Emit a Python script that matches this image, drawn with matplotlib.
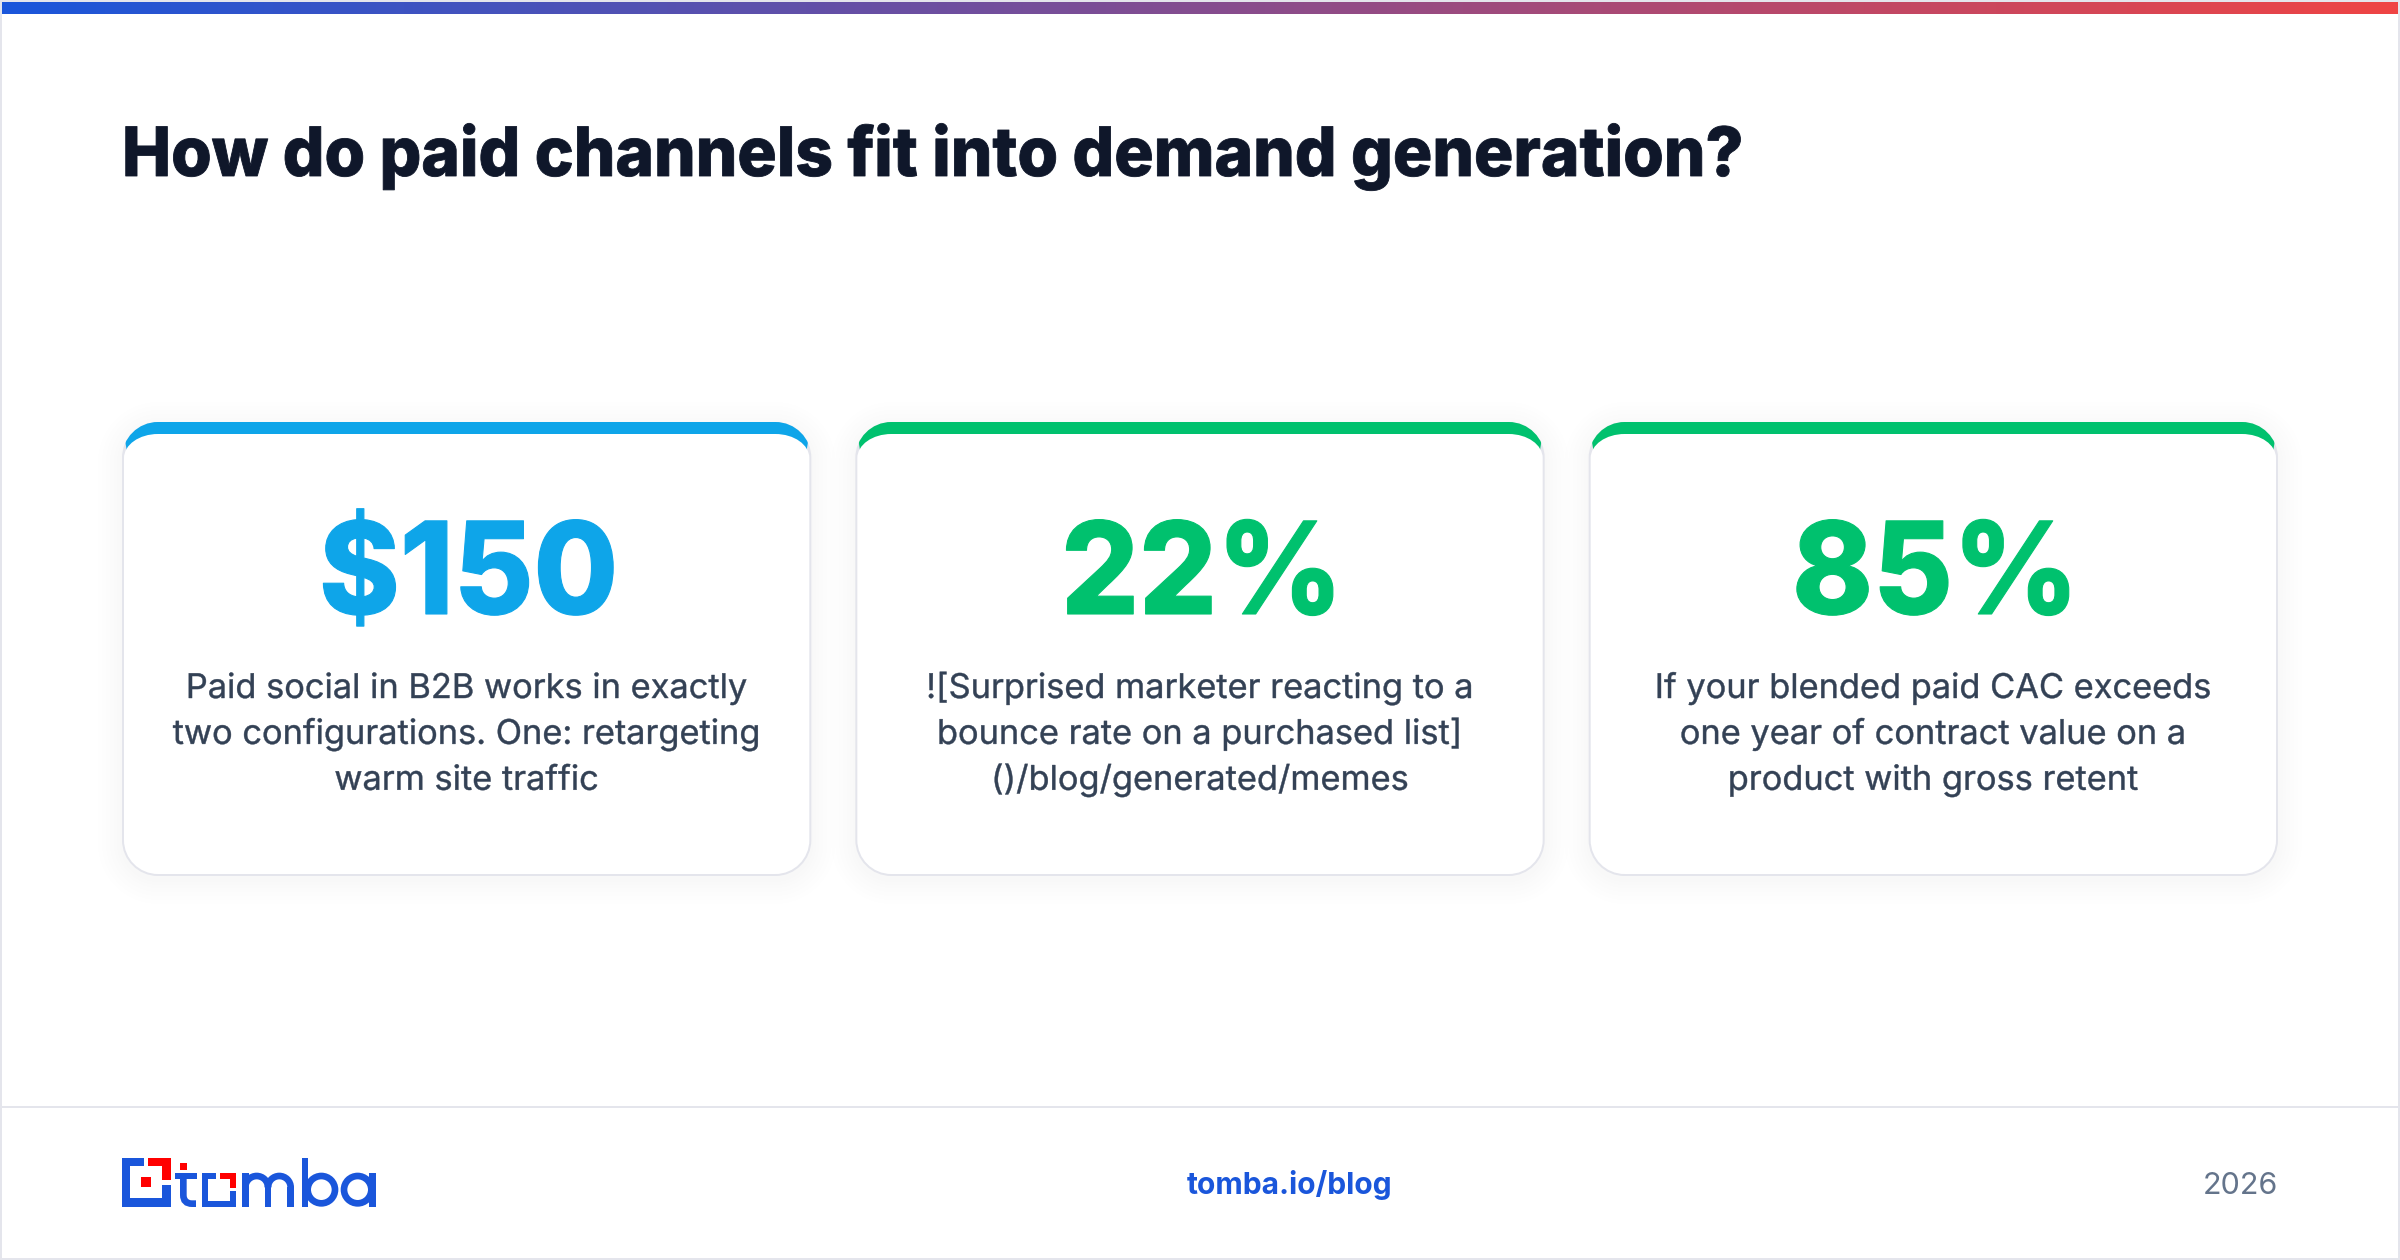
import numpy as np
import matplotlib
matplotlib.use("Agg")
import matplotlib.pyplot as plt
from matplotlib.patches import Rectangle, PathPatch, Circle, Arc
from matplotlib.patheffects import AbstractPathEffect
from matplotlib.path import Path
from matplotlib.colors import LinearSegmentedColormap
from matplotlib.transforms import Affine2D

plt.rcParams['font.family'] = ['Inter', 'DejaVu Sans']

W, H = 2400, 1260
TITLE = "How do paid channels fit into demand generation?"
FOOT_LINK = "tomba.io/blog"
FOOT_YEAR = "2026"

stats = ["$150", "22%", "85%"]
stat_colors = ["#0ea5e9", "#00c16e", "#00c16e"]
descriptions = [
    ["Paid social in B2B works in exactly", "two configurations. One: retargeting", "warm site traffic"],
    ["![Surprised marketer reacting to a", "bounce rate on a purchased list]", "()/blog/generated/memes"],
    ["If your blended paid CAC exceeds", "one year of contract value on a", "product with gross retent"],
]

BLUE = "#1a56db"
RED = "#ff0000"
GREY = "#e4e5ec"


class Tighten(AbstractPathEffect):
    # stands in for css letter-spacing: squeeze text around its anchor, maybe thicken it
    def __init__(self, anchor_x, sx, stroke=0.0):
        super().__init__()
        self.anchor_x = anchor_x
        self.sx = sx
        self.stroke = stroke

    def draw_path(self, renderer, gc, tpath, affine, rgbFace=None):
        squeeze = Affine2D().translate(-self.anchor_x, 0).scale(self.sx, 1).translate(self.anchor_x, 0)
        gc0 = renderer.new_gc()
        gc0.copy_properties(gc)
        if self.stroke:
            gc0.set_linewidth(self.stroke)
            gc0.set_foreground(rgbFace)
        renderer.draw_path(gc0, tpath, affine + squeeze, rgbFace)
        gc0.restore()


def rounded(x0, y0, x1, y1, rx, ry_top=None, ry_bot=None):
    # rounded rectangle with elliptical corners, y axis points down
    ry_top = rx if ry_top is None else ry_top
    ry_bot = rx if ry_bot is None else ry_bot
    k = 0.5523
    verts = [
        (x0 + rx, y0), (x1 - rx, y0),
        (x1 - rx + k * rx, y0), (x1, y0 + ry_top - k * ry_top), (x1, y0 + ry_top),
        (x1, y1 - ry_bot),
        (x1, y1 - ry_bot + k * ry_bot), (x1 - rx + k * rx, y1), (x1 - rx, y1),
        (x0 + rx, y1),
        (x0 + rx - k * rx, y1), (x0, y1 - ry_bot + k * ry_bot), (x0, y1 - ry_bot),
        (x0, y0 + ry_top),
        (x0, y0 + ry_top - k * ry_top), (x0 + rx - k * rx, y0), (x0 + rx, y0),
        (x0 + rx, y0),
    ]
    codes = [Path.MOVETO, Path.LINETO,
             Path.CURVE4, Path.CURVE4, Path.CURVE4,
             Path.LINETO,
             Path.CURVE4, Path.CURVE4, Path.CURVE4,
             Path.LINETO,
             Path.CURVE4, Path.CURVE4, Path.CURVE4,
             Path.LINETO,
             Path.CURVE4, Path.CURVE4, Path.CURVE4,
             Path.CLOSEPOLY]
    return Path(verts, codes)


def draw_card(ax, x0, x1, stat, color, lines):
    y0, y1 = 422, 876
    # soft shadow
    for grow in (24, 20, 16, 12, 8, 5, 2):
        ax.add_patch(PathPatch(rounded(x0 - grow, y0 - grow + 4, x1 + grow, y1 + grow + 4, 36 + grow),
                               fc="#0f172a", ec="none", alpha=0.0022))
    ax.add_patch(PathPatch(rounded(x0, y0, x1, y1, 36), fc=GREY, ec="none"))

    # thick top border, mitred into the thin side borders
    top = PathPatch(rounded(x0, y0, x1, y1, 36), fc=color, ec="none")
    ax.add_patch(top)
    clip = Path([(x0, y0), (x1, y0), (x1 - 10, y0 + 60), (x0 + 10, y0 + 60), (x0, y0)], closed=True)
    top.set_clip_path(clip, ax.transData)

    ax.add_patch(PathPatch(rounded(x0 + 2, y0 + 12, x1 - 2, y1 - 2, 34, 24, 34), fc="white", ec="none"))

    cx = (x0 + x1) / 2
    ax.text(cx + 2, 614, stat, color=color, fontsize=92.2, fontweight=800, ha="center", va="baseline",
            path_effects=[Tighten(cx + 2, 0.955, 0.8)])
    for i, line in enumerate(lines):
        ax.text(cx, 698 + i * 45.9, line, color="#334155", fontsize=24.5, ha="center", va="baseline",
                path_effects=[Tighten(cx, 1.01, 0.3)])


def draw_logo(ax):
    # logo is measured in a 3x grid, offset to the footer
    def px(x, y):
        return 80 + x / 3, 1100 + y / 3

    def box(x0, y0, x1, y1, color=BLUE):
        xa, ya = px(x0, y0)
        xb, yb = px(x1, y1)
        ax.add_patch(Rectangle((xa, ya), xb - xa, yb - ya, fc=color, ec="none"))

    # mark
    box(125, 173, 192, 198)
    box(125, 173, 150, 320)
    box(125, 295, 272, 320)
    box(246, 254, 272, 320)
    box(205, 173, 272, 198, RED)
    box(246, 173, 272, 240, RED)
    box(184, 231, 214, 261, RED)
    # t
    lw = 20 / 3 * 0.72
    box(300, 188, 322, 210, RED)
    box(285, 220, 352, 238)
    stem = Path([px(310, 230), px(310, 285), px(310, 311), px(336, 311), px(348, 311)],
                [Path.MOVETO, Path.LINETO, Path.CURVE3, Path.CURVE3, Path.LINETO])
    ax.add_patch(PathPatch(stem, fc="none", ec=BLUE, lw=lw, capstyle="butt"))
    # o
    box(366, 218, 407, 236)
    box(366, 218, 384, 320)
    box(366, 302, 467, 320)
    box(449, 274, 467, 320)
    box(420, 218, 467, 236, RED)
    box(449, 218, 467, 264, RED)
    # m
    box(486, 218, 506, 320)
    box(554, 262, 574, 320)
    box(622, 262, 642, 320)
    for c in (530, 598):
        cx, cy = px(c, 262)
        ax.add_patch(Arc((cx, cy), 68 / 3, 68 / 3, theta1=180, theta2=360, ec=BLUE, lw=lw))
    # b
    box(665, 173, 685, 320)
    cx, cy = px(724, 269)
    ax.add_patch(Circle((cx, cy), 41 / 3, fc="none", ec=BLUE, lw=lw))
    # a
    cx, cy = px(833, 269)
    ax.add_patch(Circle((cx, cy), 41 / 3, fc="none", ec=BLUE, lw=lw))
    box(868, 218, 888, 320)


def main():
    fig = plt.figure(figsize=(24, 12.6), dpi=100, facecolor="white")
    ax = fig.add_axes([0, 0, 1, 1])
    ax.set_xlim(0, W)
    ax.set_ylim(H, 0)
    ax.axis("off")

    # frame
    ax.add_patch(Rectangle((1, 1), W - 2, H - 2, fc="white", ec=GREY, lw=1.44))

    # gradient strip
    cmap = LinearSegmentedColormap.from_list("strip", [BLUE, "#ef4444"])
    ax.imshow(np.linspace(0, 1, 1024)[None, :], cmap=cmap, extent=(2, W - 2, 14, 2), aspect="auto", zorder=2)
    ax.set_xlim(0, W)
    ax.set_ylim(H, 0)

    ax.text(122, 176, TITLE, color="#0f172a", fontsize=49, fontweight=800, ha="left", va="baseline",
            path_effects=[Tighten(122, 0.964, 0.6)])

    card_w = (W - 244 - 88) / 3
    for i, (stat, color, lines) in enumerate(zip(stats, stat_colors, descriptions)):
        x0 = 122 + i * (card_w + 44)
        draw_card(ax, x0, x0 + card_w, stat, color, lines)

    # footer
    ax.add_patch(Rectangle((2, 1106), W - 4, 2, fc=GREY, ec="none"))
    draw_logo(ax)
    ax.text(1289.5, 1194, FOOT_LINK, color=BLUE, fontsize=21.6, fontweight=700, ha="center", va="baseline")
    ax.text(2278, 1194, FOOT_YEAR, color="#64748b", fontsize=22, ha="right", va="baseline")

    fig.savefig("out.png", dpi=100)


if __name__ == "__main__":
    main()
